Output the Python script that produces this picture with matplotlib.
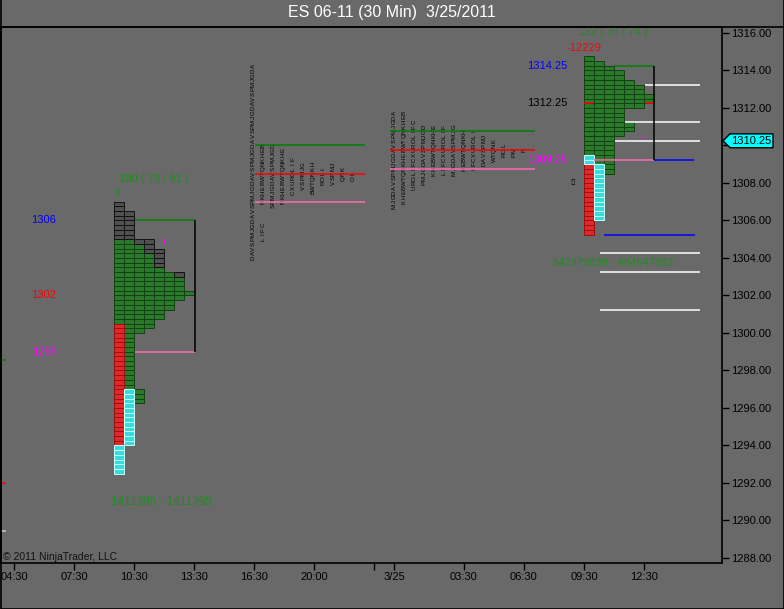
import matplotlib
matplotlib.use("Agg")
import matplotlib.pyplot as plt
from matplotlib.patches import Polygon
from matplotlib.lines import Line2D
from matplotlib import transforms

plt.rcParams['font.family'] = ['Liberation Sans', 'DejaVu Sans']

TICK = 0.25

# x axis is in 30 min bars, 04:30 = bar 0
tick_bars = [0, 6, 12, 18, 24, 30, 36, 38, 45, 51, 57, 63]
tick_labels = ['04:30', '07:30', '10:30', '13:30', '16:30', '20:00', '',
               '3/25', '03:30', '06:30', '09:30', '12:30']
price_ticks = [1288 + 2 * i for i in range(15)]
last_price = 1310.25

# profile 1 (3/24 RTH): (upper, lower, tpo count)
p1_start = 10
p1_rows = [(1307.0, 1306.5, 1), (1306.5, 1305.0, 2), (1305.0, 1304.5, 4),
           (1304.5, 1303.25, 5), (1303.25, 1302.25, 7), (1302.25, 1302.0, 8),
           (1302.0, 1301.75, 7), (1301.75, 1301.25, 6), (1301.25, 1300.75, 5),
           (1300.75, 1300.25, 4), (1300.25, 1300.0, 3), (1300.0, 1297.0, 2),
           (1297.0, 1296.25, 3), (1296.25, 1294.0, 2), (1294.0, 1292.5, 1)]
# (column, upper, lower, kind)
p1_marks = [(0, 1307.0, 1305.0, 'black'), (1, 1306.5, 1305.0, 'black'),
            (2, 1305.0, 1304.75, 'black'), (3, 1305.0, 1304.25, 'black'),
            (4, 1304.5, 1303.5, 'black'), (6, 1303.25, 1303.0, 'black'),
            (0, 1300.5, 1294.0, 'red'), (0, 1294.0, 1292.5, 'cyan'),
            (1, 1297.0, 1294.0, 'cyan')]

# profile 4 (3/25 RTH)
p4_start = 57
p4_rows = [(1314.75, 1314.5, 1), (1314.5, 1314.25, 2), (1314.25, 1314.0, 3),
           (1314.0, 1313.5, 4), (1313.5, 1313.25, 5), (1313.25, 1312.75, 6),
           (1312.75, 1312.25, 7), (1312.25, 1312.0, 6), (1312.0, 1311.25, 4),
           (1311.25, 1310.75, 5), (1310.75, 1310.5, 4), (1310.5, 1308.5, 3),
           (1308.5, 1306.0, 2), (1306.0, 1305.25, 1)]
p4_marks = [(0, 1309.5, 1309.0, 'cyan'), (0, 1309.0, 1305.25, 'red'),
            (1, 1309.0, 1306.0, 'cyan')]

# letter profiles: (bar, top price, bottom price)
p2_cols = [(23.9, 1314.25, 1304.0), (24.9, 1310.0, 1307.0), (24.9, 1305.75, 1305.0),
           (25.9, 1310.0, 1306.75), (26.9, 1309.75, 1307.0), (27.9, 1309.25, 1307.5),
           (28.9, 1309.0, 1307.75), (29.9, 1309.0, 1307.5), (30.9, 1308.75, 1308.0),
           (31.9, 1309.0, 1308.0), (32.9, 1308.75, 1308.25), (33.9, 1308.5, 1308.25)]
p3_cols = [(38.0, 1311.75, 1306.75), (39.0, 1311.75, 1307.0), (40.0, 1311.25, 1307.75),
           (41.0, 1311.0, 1308.0), (42.0, 1311.0, 1308.5), (43.0, 1311.0, 1308.5),
           (44.0, 1311.0, 1308.5), (45.0, 1310.75, 1308.75), (46.0, 1310.75, 1308.75),
           (47.0, 1310.5, 1309.0), (48.0, 1310.25, 1309.25), (49.0, 1310.0, 1309.5),
           (50.0, 1309.75, 1309.5), (51.0, 1309.75, 1309.75)]

# horizontal lines: (x0, x1, price, colour)
h_lines = [(12.1, 18.1, 1306.0, 'green'), (12.1, 18.1, 1299.0, 'hotpink'),
           (24.1, 35.1, 1310.0, 'green'), (24.1, 35.1, 1308.5, 'red'),
           (24.1, 35.1, 1307.0, 'hotpink'),
           (37.6, 52.1, 1310.75, 'green'), (37.6, 52.1, 1309.75, 'red'),
           (37.6, 52.1, 1308.75, 'hotpink'),
           (60.0, 64.0, 1314.25, 'green'), (58.0, 64.0, 1309.25, 'hotpink'),
           (64.0, 68.0, 1309.25, 'blue'), (59.0, 68.1, 1305.25, 'blue'),
           (57.0, 57.9, 1312.25, 'red'), (63.1, 64.0, 1312.25, 'red'),
           (63.1, 68.6, 1313.25, 'white'), (61.1, 68.6, 1311.25, 'white'),
           (60.1, 68.6, 1310.25, 'white'), (58.6, 68.6, 1304.25, 'white'),
           (58.6, 68.6, 1303.25, 'white'), (58.6, 68.6, 1301.25, 'white'),
           (-1.3, -0.8, 1298.56, 'green'), (-1.3, -0.8, 1292.0, 'red'),
           (-1.3, -0.8, 1289.44, '#e0c0c0')]
# vertical lines: (x, low, high)
v_lines = [(18.1, 1299.0, 1306.0), (64.0, 1309.25, 1314.25)]

# text labels: (bar, price, text, colour, ha, size)
labels = [(14.0, 1308.2, '180 ( 73 / 91 )', 'forestgreen', 'center', 8),
          (10.0, 1307.45, '9', 'forestgreen', 'left', 8),
          (3.0, 1306.0, '1306', 'blue', 'center', 8),
          (3.0, 1302.0, '1302', 'red', 'center', 8),
          (3.0, 1299.0, '1299', 'magenta', 'center', 8),
          (14.7, 1291.0, '1411395 - 1411395', 'forestgreen', 'center', 8.5),
          (51.3, 1314.25, '1314.25', 'blue', 'left', 8),
          (51.3, 1312.25, '1312.25', 'black', 'left', 8),
          (51.3, 1309.25, '1309.25', 'magenta', 'left', 8),
          (57.0, 1315.2, '-12229', 'red', 'center', 8),
          (59.9, 1316.05, '122 ( 37 / 74 )', 'forestgreen', 'center', 8),
          (59.9, 1303.72, '342979639 - 684647882', 'forestgreen', 'center', 8)]

BOX_STYLE = {'green': ('#2b7a2b', '#124212'), 'black': ('#505050', '#111111'),
             'red': ('#e02828', '#9a1010'), 'cyan': ('#38dcdc', '#c8ffff')}
LETTERS = 'ABCDEFGHIJKLMNOPQRSTUVWX'


def draw_profile(ax, start, rows, marks):
    cells = {k: ([], []) for k in BOX_STYLE}
    for upper, lower, count in rows:
        n = int(round((upper - lower) / TICK))
        for r in range(n):
            bottom = upper - (r + 1) * TICK
            for col in range(count):
                kind = 'green'
                for mc, mu, ml, mk in marks:
                    if mc == col and ml - 1e-6 <= bottom < mu - 1e-6:
                        kind = mk
                cells[kind][0].append(start + col)
                cells[kind][1].append(bottom)
    for kind, (xs, bs) in cells.items():
        fc, ec = BOX_STYLE[kind]
        ax.bar(xs, TICK, width=1, bottom=bs, align='edge', color=fc,
               edgecolor=ec, linewidth=0.7, zorder=2)


def draw_letters(ax, cols):
    for i, (x, top, bot) in enumerate(cols):
        n = int(round((top - bot) / TICK)) + 1
        for r in range(n):
            ch = LETTERS[(i + r * 3) % len(LETTERS)]
            ax.text(x, top - r * TICK, ch, rotation=90, fontsize=4.4,
                    ha='center', va='center', color='black', zorder=3)


fig = plt.figure(figsize=(7.84, 6.09), dpi=100, facecolor='dimgray')
ax = fig.add_axes([1 / 784, 46 / 609, 721 / 784, 536 / 609], facecolor='dimgray')
ax.set_xlim(-1.3, 70.8)
ax.set_ylim(1287.73, 1316.32)

draw_profile(ax, p1_start, p1_rows, p1_marks)
draw_profile(ax, p4_start, p4_rows, p4_marks)
draw_letters(ax, p2_cols)
draw_letters(ax, p3_cols)

for x0, x1, p, c in h_lines:
    ax.hlines(p, x0, x1, colors=c, linewidth=1.1, zorder=4)
for x, lo, hi in v_lines:
    ax.vlines(x, lo, hi, colors='black', linewidth=1.1, zorder=4)

for x, p, s, c, ha, fs in labels:
    ax.text(x, p, s, color=c, fontsize=fs, ha=ha, va='center', zorder=5)

# small magenta marks and box glyph
ax.text(15.0, 1304.8, 'II', color='magenta', fontsize=5, ha='center', va='center')
ax.text(62.9, 1310.3, 'II', color='magenta', fontsize=5, ha='center', va='center')
ax.text(55.9, 1308.05, '▯', color='black', fontsize=6, ha='center', va='center')

ax.text(0.003, 0.011, '© 2011 NinjaTrader, LLC', transform=ax.transAxes,
        fontsize=7.5, color='#111111', ha='left', va='center')

ax.set_xticks(tick_bars)
ax.set_xticklabels(tick_labels)
ax.set_yticks(price_ticks)
# the 1310.00 label sits under the last price marker
ax.set_yticklabels(['' if p == 1310 else f'{p:.2f}' for p in price_ticks])
ax.yaxis.tick_right()
ax.tick_params(axis='x', length=5, width=1, color='black', labelsize=8,
               labelcolor='black', pad=1.5)
ax.tick_params(axis='y', length=5, width=1, color='black', labelsize=8,
               labelcolor='black', pad=1.5)
for side in ['left', 'right', 'top', 'bottom']:
    ax.spines[side].set_color('black')
    ax.spines[side].set_linewidth(1.2)

# top rule continues past the price axis
fig.add_artist(Line2D([0, 1], [1 - 27 / 609] * 2, color='black', linewidth=1.2))
# outer frame
fig.add_artist(Line2D([0.5 / 784, 0.5 / 784, 783.5 / 784, 783.5 / 784],
                      [1, 0.5 / 609, 0.5 / 609, 1], color='black', linewidth=1.2))

# last price marker
tr = transforms.blended_transform_factory(fig.transFigure, ax.transData)
h = 0.37
pts = [(723 / 784, last_price), (730 / 784, last_price + h), (773 / 784, last_price + h),
       (773 / 784, last_price - h), (730 / 784, last_price - h)]
fig.add_artist(Polygon(pts, closed=True, transform=tr, facecolor='cyan',
                       edgecolor='black', linewidth=1, zorder=5))
fig.text(751.5 / 784, last_price, f'{last_price:.2f}', transform=tr, fontsize=8,
         ha='center', va='center', color='black', zorder=6)

fig.text(0.5, 1 - 13 / 609, 'ES 06-11 (30 Min)  3/25/2011', color='white',
         fontsize=11.5, ha='center', va='center')

fig.savefig('out.png', dpi=100, facecolor=fig.get_facecolor())
